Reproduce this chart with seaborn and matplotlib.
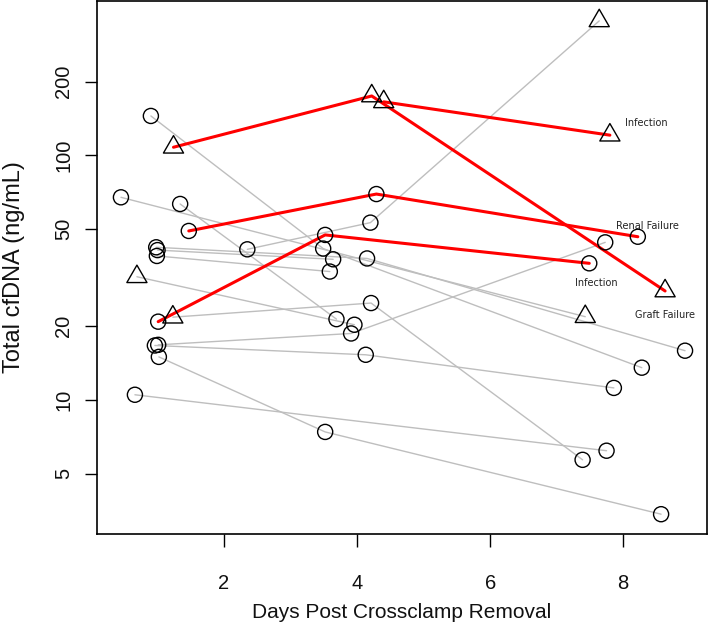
import matplotlib

matplotlib.use("Agg")

import matplotlib.pyplot as plt
import pandas as pd
import seaborn as sns
from matplotlib.path import Path

# one row per measurement, patients listed in order
patient = [
    "P1", "P1", "P1",
    "P2", "P2", "P2",
    "P3", "P3",
    "P4", "P4",
    "P5", "P5",
    "P6", "P6", "P6",
    "P7", "P7", "P7",
    "P8", "P8", "P8",
    "P9", "P9", "P9",
    "P10", "P10",
    "P11", "P11", "P11",
    "P12", "P12",
    "P13", "P13",
    "R1", "R1", "R1",
    "R2", "R2",
    "R3", "R3", "R3",
    "R4", "R4", "R4",
]
days = [
    2.35, 4.20, 7.64,
    0.90, 3.49, 8.28,
    0.45, 7.43,
    1.34, 3.69,
    0.69, 3.96,
    1.23, 4.21, 7.39,
    1.01, 3.91, 7.73,
    0.96, 4.13, 7.86,
    1.02, 3.52, 8.57,
    0.66, 7.75,
    0.98, 4.15, 8.93,
    1.00, 3.64,
    0.99, 3.59,
    1.24, 4.22, 8.63,
    4.40, 7.80,
    1.47, 4.29, 8.22,
    1.01, 3.52, 7.49,
]
cfdna = [
    41.3, 53.1, 355,
    145, 41.6, 13.55,
    67.4, 21.9,
    63.3, 21.4,
    31.9, 20.3,
    21.8, 24.9, 5.69,
    16.8, 18.7, 44.1,
    16.7, 15.3, 11.2,
    15.0, 7.4, 3.41,
    10.5, 6.2,
    42.1, 37.9, 15.9,
    41.0, 37.6,
    38.8, 33.5,
    108, 175, 27.9,
    165.6, 121,
    49.1, 69.5, 46.5,
    20.9, 47.3, 36.2,
]
shape = [
    "o", "o", "^",
    "o", "o", "o",
    "o", "^",
    "o", "o",
    "^", "o",
    "^", "o", "o",
    "o", "o", "o",
    "o", "o", "o",
    "o", "o", "o",
    "o", "o",
    "o", "o", "o",
    "o", "o",
    "o", "o",
    "^", "^", "^",
    "^", "^",
    "o", "o", "o",
    "o", "o", "o",
]
outcome_patients = ["R1", "R2", "R3", "R4"]
outcome_labels = ["Graft Failure", "Infection", "Renal Failure", "Infection"]
# label offsets from the last point, in points
label_offsets = [(0, -17), (26, 9), (7, 8), (5, -14)]

y_ticks = [5, 10, 20, 50, 100, 200]
x_ticks = [2, 4, 6, 8]

# R-style open triangle (pch = 2), centred on its circumcentre
TRIANGLE = Path([(0, 1), (-0.866, -0.5), (0.866, -0.5), (0, 1)], closed=True)


def main() -> None:
    sns.set_theme(style="ticks")
    plt.rcParams["font.family"] = ["Liberation Sans", "DejaVu Sans"]

    df = pd.DataFrame({"patient": patient, "days": days, "cfdna": cfdna, "shape": shape})
    df["group"] = ["red" if p in outcome_patients else "grey" for p in df["patient"]]

    fig = plt.figure(figsize=(7.09, 6.36), dpi=100)
    ax = fig.add_axes([97 / 709, 1 - 534 / 636, 610 / 709, 533 / 636])
    ax.set_yscale("log")

    sns.lineplot(data=df[df["group"] == "grey"], x="days", y="cfdna", units="patient",
                 estimator=None, sort=False, color="#BEBEBE", linewidth=1.0, ax=ax, zorder=1)
    sns.lineplot(data=df[df["group"] == "red"], x="days", y="cfdna", units="patient",
                 estimator=None, sort=False, color="#FF0000", linewidth=2.2, ax=ax, zorder=2)
    sns.scatterplot(data=df, x="days", y="cfdna", style="shape", markers={"o": "o", "^": TRIANGLE},
                    size="shape", sizes={"o": 118, "^": 280}, facecolor="none", edgecolor="black",
                    linewidth=1.0, legend=False, ax=ax, zorder=3)

    for pid, label, offset in zip(outcome_patients, outcome_labels, label_offsets):
        last = df[df["patient"] == pid].iloc[-1]
        ax.annotate(label, xy=(last["days"], last["cfdna"]), xytext=offset, textcoords="offset points",
                    ha="center", va="center", fontsize=7, family="DejaVu Sans", color="#222222")

    ax.set_xlim(0.09, 9.26)
    ax.set_ylim(2.83, 428)
    ax.set_xticks(x_ticks)
    ax.set_xticklabels([str(t) for t in x_ticks])
    ax.set_yticks(y_ticks)
    ax.set_yticklabels([str(t) for t in y_ticks])
    ax.minorticks_off()
    ax.tick_params(axis="both", direction="out", length=9, width=1, color="black",
                   labelsize=14.5, labelcolor="#111111")
    ax.tick_params(axis="x", pad=20)
    ax.tick_params(axis="y", pad=8)
    for lab in ax.get_yticklabels():
        lab.set_rotation(90)
        lab.set_va("center")
    for side in ["top", "right", "bottom", "left"]:
        ax.spines[side].set_visible(True)
        ax.spines[side].set_color("black")
        ax.spines[side].set_linewidth(1.2)

    ax.set_xlabel("Days Post Crossclamp Removal", fontsize=15, color="#111111")
    ax.set_ylabel("Total cfDNA (ng/mL)", fontsize=17, color="#111111")
    ax.xaxis.label.set_va("center")
    ax.yaxis.label.set_va("center")
    ax.xaxis.set_label_coords(0.5, (534 - 612) / 533)
    ax.yaxis.set_label_coords((14 - 97) / 610, 0.5)

    fig.savefig("out.png", dpi=100, facecolor="white")
    plt.close(fig)


if __name__ == "__main__":
    main()
